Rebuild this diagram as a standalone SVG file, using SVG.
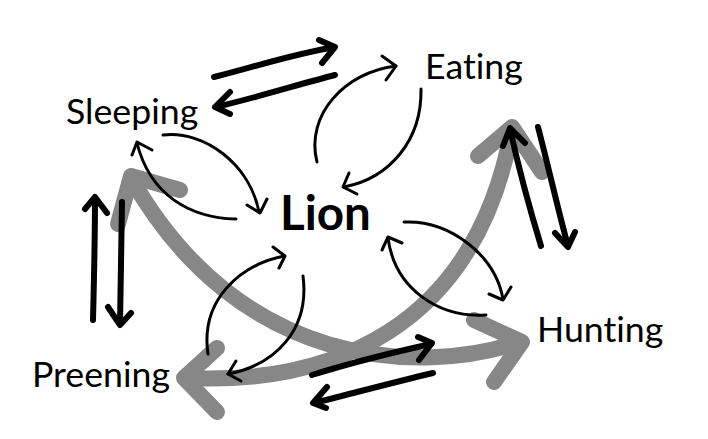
<svg xmlns="http://www.w3.org/2000/svg" width="708" height="439" viewBox="0 0 708 439">
<style>
.lbl{font-family:Lato,"Noto Sans",sans-serif;font-size:35.7px;fill:#000;font-variant-ligatures:none}
.big{font-family:Lato,"Noto Sans",sans-serif;font-size:47.5px;font-weight:bold;fill:#000}
.gray{fill:none;stroke:#878787;stroke-width:16;stroke-linecap:round;stroke-linejoin:round}
.thick{fill:none;stroke:#000;stroke-width:6;stroke-linecap:round;stroke-linejoin:round}
.thin{fill:none;stroke:#000;stroke-width:3;stroke-linecap:round;stroke-linejoin:round}
</style>
<rect width="708" height="439" fill="#fff"/>
<g id="connectors">
  <g id="gray-arrows">
    <path class="gray" d="M 520 342 C 420 375, 240 370, 131 178"/>
    <path class="gray" d="M 180 190 L 131 176 L 118 224"/>
    <path class="gray" d="M 474 320 L 522 342 L 494 382"/>
    <path class="gray" d="M 185 378 C 330 385, 475 330, 512 129"/>
    <path class="gray" d="M 217 348 L 184 378 L 217 412"/>
    <path class="gray" d="M 478 156 L 512 127 L 542 172"/>
  </g>
  <g id="thick-arrows">
    <path class="thick" d="M 214 77 C 250 68, 290 55, 334 47"/>
    <path class="thick" d="M 319 40 L 335 47 L 322 63"/>
    <path class="thick" d="M 335 75 C 300 84, 255 98, 216 107"/>
    <path class="thick" d="M 230 92 L 215 107 L 230 114"/>
    <path class="thick" d="M 93 320 C 94 280, 95 240, 95 198"/>
    <path class="thick" d="M 85 209 L 95 197 L 107 213"/>
    <path class="thick" d="M 122 202 C 121 240, 121 285, 120 324"/>
    <path class="thick" d="M 108 307 L 120 325 L 131 313"/>
    <path class="thick" d="M 541 246 C 530 210, 518 165, 510 129"/>
    <path class="thick" d="M 503 146 L 510 128 L 525 143"/>
    <path class="thick" d="M 538 127 C 548 165, 558 210, 568 246"/>
    <path class="thick" d="M 555 233 L 568 247 L 575 232"/>
    <path class="thick" d="M 312 375 C 350 363, 395 352, 431 344"/>
    <path class="thick" d="M 418 337 L 432 343 L 419 360"/>
    <path class="thick" d="M 433 373 C 395 382, 350 394, 314 403"/>
    <path class="thick" d="M 327 387 L 313 403 L 326 408"/>
  </g>
  <g id="thin-arrows">
    <path class="thin" d="M 163 135 C 205 130, 250 165, 259 212"/>
    <path class="thin" d="M 247 205 L 260 213 L 267 199"/>
    <path class="thin" d="M 236 219 C 190 218, 150 195, 137 143"/>
    <path class="thin" d="M 132 155 L 137 142 L 152 150"/>
    <path class="thin" d="M 317 162 C 305 115, 345 72, 396 66"/>
    <path class="thin" d="M 382 56 L 396 66 L 386 80"/>
    <path class="thin" d="M 421 89 C 422 140, 390 178, 344 187"/>
    <path class="thin" d="M 349 173 L 343 187 L 357 194"/>
    <path class="thin" d="M 404 222 C 450 220, 495 255, 503 299"/>
    <path class="thin" d="M 489 294 L 503 300 L 511 287"/>
    <path class="thin" d="M 486 315 C 440 318, 395 290, 388 238"/>
    <path class="thin" d="M 382 250 L 388 237 L 402 243"/>
    <path class="thin" d="M 208 354 C 200 300, 240 265, 284 256"/>
    <path class="thin" d="M 273 247 L 285 256 L 279 268"/>
    <path class="thin" d="M 303 276 C 310 330, 275 365, 228 374"/>
    <path class="thin" d="M 236 361 L 228 374 L 241 381"/>
  </g>
</g>
<g id="node-sleeping"><text class="lbl" x="66" y="124">Sleeping</text></g>
<g id="node-eating"><text class="lbl" x="425" y="79">Eating</text></g>
<g id="node-preening"><text class="lbl" x="32" y="387">Preening</text></g>
<g id="node-hunting"><text class="lbl" x="537" y="342">Hunting</text></g>
<g id="node-lion"><text class="big" x="280" y="230">Lion</text></g>
</svg>
